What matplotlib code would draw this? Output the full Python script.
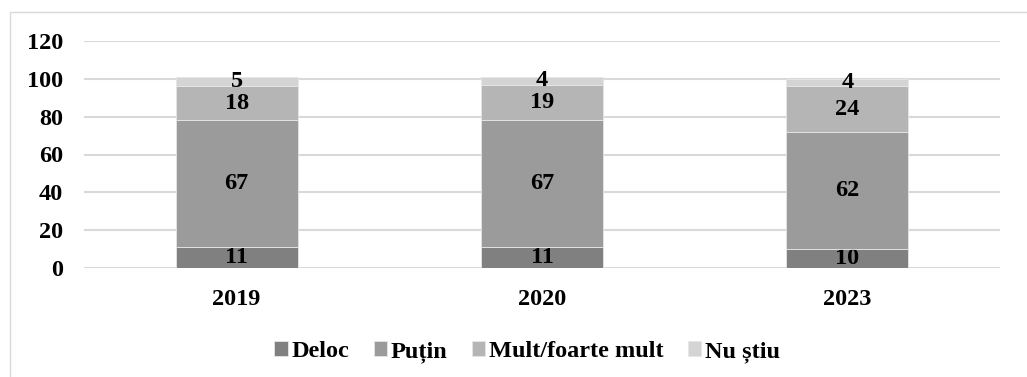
import matplotlib.pyplot as plt
from matplotlib.patches import Rectangle
import numpy as np

years = ['2019', '2020', '2023']
series = ['Deloc', 'Puțin', 'Mult/foarte mult', 'Nu știu']
deloc = [11, 11, 10]
putin = [67, 67, 62]
mult = [18, 19, 24]
nu_stiu = [5, 4, 4]
colors = ['#808080', '#9b9b9b', '#b5b5b5', '#d4d4d4']

plt.rcParams['font.family'] = ['Liberation Serif', 'DejaVu Serif']
plt.rcParams['font.weight'] = 'bold'

fig = plt.figure(figsize=(10.27, 3.77), dpi=100)
ax = fig.add_axes([84/1027, 1-268/377, 916/1027, 227/377])

# outer frame of the chart
fig.patches.append(Rectangle((10/1027, -0.1), 1.1, 1-12/377+0.1, transform=fig.transFigure,
                             fill=False, edgecolor='#d9d9d9', linewidth=1))

x = np.arange(len(years))
bottom = np.zeros(len(years))
for name, vals, c in zip(series, [deloc, putin, mult, nu_stiu], colors):
    bars = ax.bar(x, vals, 0.4, bottom=bottom, color=c, label=name,
                  edgecolor='#e6e6e6', linewidth=0.6, zorder=3)
    ax.bar_label(bars, labels=[str(v) for v in vals], label_type='center',
                 fontsize=17.5, fontweight='bold', color='black')
    bottom += np.array(vals)

ax.set_xlim(-0.5, 2.5)
ax.set_ylim(0, 120)
ax.set_yticks(range(0, 121, 20))
ax.set_xticks(x)
ax.set_xticklabels(years)
ax.tick_params(length=0, labelsize=17.5)
ax.tick_params(axis='x', pad=15)
ax.tick_params(axis='y', pad=15)
ax.grid(axis='y', color='#d9d9d9', linewidth=1.5, zorder=0)
for s in ax.spines.values():
    s.set_visible(False)

leg = fig.legend(loc='center', bbox_to_anchor=(527/1027, 1-352/377), ncol=4, frameon=False,
                 fontsize=17.5, handlelength=0.55, handleheight=0.55, handletextpad=0.15,
                 columnspacing=1.0)

fig.savefig('out.png', dpi=100)
